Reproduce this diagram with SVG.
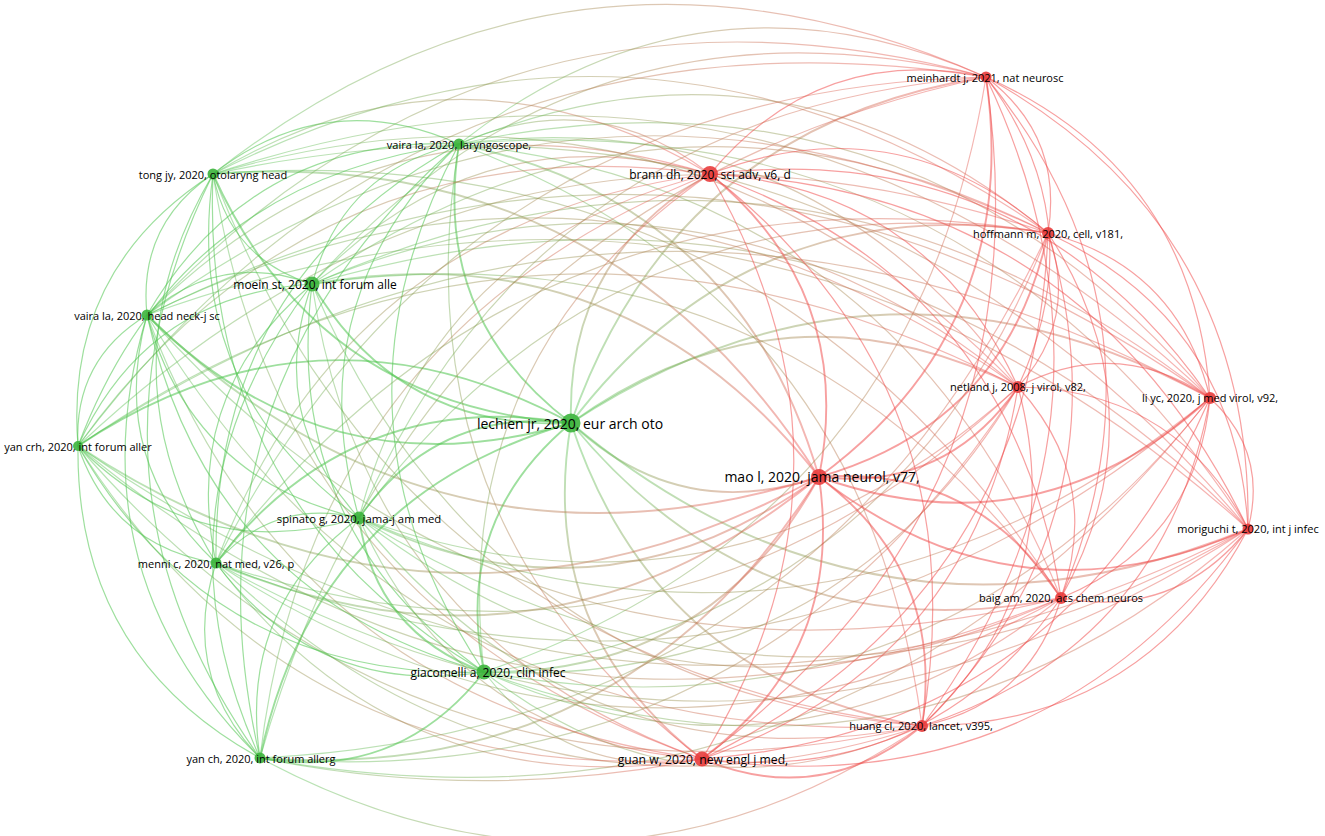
<svg xmlns="http://www.w3.org/2000/svg" width="1325" height="836" viewBox="0 0 1325 836">
<style>
#edges use{fill:none;stroke-width:1.2}
.g{stroke:#4fc44f;stroke-opacity:.55}
.r{stroke:#f04848;stroke-opacity:.52}
.gr{stroke:url(#gr);stroke-opacity:.42}
.rg{stroke:url(#rg);stroke-opacity:.42}
#edges use.t{stroke-width:1.9}
.ng circle{fill:#3cb43c;fill-opacity:.9}
.nr circle{fill:#e83c3c;fill-opacity:.9}
text{font-family:"Open Sans","Noto Sans","Liberation Sans",sans-serif;font-size:11px;fill:#000;text-anchor:middle;dominant-baseline:central}
</style>
<defs>
<linearGradient id="gr" x1="0" y1="0" x2="1" y2="0"><stop offset="0" stop-color="#4fc44f"/><stop offset="1" stop-color="#f04848"/></linearGradient>
<linearGradient id="rg" x1="0" y1="0" x2="1" y2="0"><stop offset="0" stop-color="#f04848"/><stop offset="1" stop-color="#4fc44f"/></linearGradient>
<path id="e" d="M0,0 Q0.5,-0.3 1,0" fill="none" vector-effect="non-scaling-stroke"/>
<path id="f" d="M0,0 Q0.5,-0.1 1,0" fill="none" vector-effect="non-scaling-stroke"/>
</defs>
<rect width="1325" height="836" fill="#fff"/>
<g id="edges">
<use href="#e" class="g t" transform="matrix(-424,-108,108,-424,571,423)"/>
<use href="#e" class="g t" transform="matrix(-259,-139,139,-259,571,423)"/>
<use href="#e" class="g t" transform="matrix(-358,-249,249,-358,571,423)"/>
<use href="#e" class="g t" transform="matrix(-112,-279,279,-112,571,423)"/>
<use href="#e" class="gr t" transform="matrix(139,-249,249,139,571,423)"/>
<use href="#e" class="gr t" transform="matrix(415,-346,346,415,571,423)"/>
<use href="#e" class="gr t" transform="matrix(477,-190,190,477,571,423)"/>
<use href="#e" class="gr t" transform="matrix(447,-36,36,447,571,423)"/>
<use href="#e" class="gr t" transform="matrix(639,-25,25,639,571,423)"/>
<use href="#e" class="rg t" transform="matrix(-677,-106,106,-677,1248,529)"/>
<use href="#e" class="rg t" transform="matrix(-248,-54,54,-248,819,477)"/>
<use href="#e" class="rg t" transform="matrix(-490,-175,175,-490,1061,598)"/>
<use href="#e" class="rg t" transform="matrix(-351,-303,303,-351,922,726)"/>
<use href="#e" class="rg t" transform="matrix(-131,-336,336,-131,702,759)"/>
<use href="#e" class="g t" transform="matrix(87,-249,249,87,484,672)"/>
<use href="#e" class="g t" transform="matrix(311,-335,335,311,260,758)"/>
<use href="#e" class="g t" transform="matrix(355,-140,140,355,216,563)"/>
<use href="#e" class="g t" transform="matrix(212,-95,95,212,359,518)"/>
<use href="#e" class="g t" transform="matrix(493,-23,23,493,78,446)"/>
<use href="#e" class="g" transform="matrix(165,-31,31,165,147,315)"/>
<use href="#e" class="g" transform="matrix(66,-141,141,66,147,315)"/>
<use href="#e" class="g" transform="matrix(312,-171,171,312,147,315)"/>
<use href="#e" class="gr" transform="matrix(563,-141,141,563,147,315)"/>
<use href="#e" class="gr" transform="matrix(839,-238,238,839,147,315)"/>
<use href="#e" class="gr" transform="matrix(901,-82,82,901,147,315)"/>
<use href="#e" class="gr" transform="matrix(871,72,-72,871,147,315)"/>
<use href="#e" class="gr" transform="matrix(1063,83,-83,1063,147,315)"/>
<use href="#e" class="gr" transform="matrix(1101,214,-214,1101,147,315)"/>
<use href="#e" class="rg t" transform="matrix(-672,-162,162,-672,819,477)"/>
<use href="#e" class="rg" transform="matrix(-914,-283,283,-914,1061,598)"/>
<use href="#e" class="rg" transform="matrix(-775,-411,411,-775,922,726)"/>
<use href="#e" class="rg" transform="matrix(-555,-444,444,-555,702,759)"/>
<use href="#e" class="g" transform="matrix(-337,-357,357,-337,484,672)"/>
<use href="#e" class="g" transform="matrix(-113,-443,443,-113,260,758)"/>
<use href="#e" class="g" transform="matrix(-69,-248,248,-69,216,563)"/>
<use href="#e" class="g" transform="matrix(-212,-203,203,-212,359,518)"/>
<use href="#e" class="g" transform="matrix(69,-131,131,69,78,446)"/>
<use href="#e" class="g" transform="matrix(-99,-110,110,-99,312,284)"/>
<use href="#e" class="g" transform="matrix(147,-140,140,147,312,284)"/>
<use href="#e" class="gr" transform="matrix(398,-110,110,398,312,284)"/>
<use href="#e" class="gr" transform="matrix(674,-207,207,674,312,284)"/>
<use href="#e" class="gr" transform="matrix(736,-51,51,736,312,284)"/>
<use href="#e" class="gr" transform="matrix(706,103,-103,706,312,284)"/>
<use href="#e" class="gr" transform="matrix(898,114,-114,898,312,284)"/>
<use href="#e" class="gr" transform="matrix(936,245,-245,936,312,284)"/>
<use href="#e" class="gr t" transform="matrix(507,193,-193,507,312,284)"/>
<use href="#e" class="gr" transform="matrix(749,314,-314,749,312,284)"/>
<use href="#e" class="rg" transform="matrix(-610,-442,442,-610,922,726)"/>
<use href="#e" class="rg" transform="matrix(-390,-475,475,-390,702,759)"/>
<use href="#e" class="g" transform="matrix(-172,-388,388,-172,484,672)"/>
<use href="#e" class="g" transform="matrix(52,-474,474,52,260,758)"/>
<use href="#e" class="g" transform="matrix(96,-279,279,96,216,563)"/>
<use href="#e" class="g" transform="matrix(-47,-234,234,-47,359,518)"/>
<use href="#e" class="g" transform="matrix(234,-162,162,234,78,446)"/>
<use href="#e" class="g" transform="matrix(246,-30,30,246,213,174)"/>
<use href="#e" class="gr" transform="matrix(497,0,0,497,213,174)"/>
<use href="#e" class="gr" transform="matrix(773,-97,97,773,213,174)"/>
<use href="#e" class="gr" transform="matrix(835,59,-59,835,213,174)"/>
<use href="#e" class="gr" transform="matrix(805,213,-213,805,213,174)"/>
<use href="#e" class="gr" transform="matrix(997,224,-224,997,213,174)"/>
<use href="#e" class="gr" transform="matrix(1035,355,-355,1035,213,174)"/>
<use href="#e" class="gr t" transform="matrix(606,303,-303,606,213,174)"/>
<use href="#e" class="gr" transform="matrix(848,424,-424,848,213,174)"/>
<use href="#e" class="rg" transform="matrix(-709,-552,552,-709,922,726)"/>
<use href="#e" class="rg" transform="matrix(-489,-585,585,-489,702,759)"/>
<use href="#e" class="g" transform="matrix(-271,-498,498,-271,484,672)"/>
<use href="#e" class="g" transform="matrix(-47,-584,584,-47,260,758)"/>
<use href="#e" class="g" transform="matrix(-3,-389,389,-3,216,563)"/>
<use href="#e" class="g" transform="matrix(-146,-344,344,-146,359,518)"/>
<use href="#e" class="g" transform="matrix(135,-272,272,135,78,446)"/>
<use href="#e" class="gr" transform="matrix(251,30,-30,251,459,144)"/>
<use href="#e" class="gr" transform="matrix(527,-67,67,527,459,144)"/>
<use href="#e" class="gr" transform="matrix(589,89,-89,589,459,144)"/>
<use href="#e" class="gr" transform="matrix(559,243,-243,559,459,144)"/>
<use href="#e" class="gr" transform="matrix(751,254,-254,751,459,144)"/>
<use href="#e" class="gr" transform="matrix(789,385,-385,789,459,144)"/>
<use href="#e" class="gr t" transform="matrix(360,333,-333,360,459,144)"/>
<use href="#e" class="gr" transform="matrix(602,454,-454,602,459,144)"/>
<use href="#e" class="gr" transform="matrix(463,582,-582,463,459,144)"/>
<use href="#e" class="rg" transform="matrix(-243,-615,615,-243,702,759)"/>
<use href="#e" class="g" transform="matrix(-25,-528,528,-25,484,672)"/>
<use href="#e" class="g" transform="matrix(199,-614,614,199,260,758)"/>
<use href="#e" class="g" transform="matrix(243,-419,419,243,216,563)"/>
<use href="#e" class="g" transform="matrix(100,-374,374,100,359,518)"/>
<use href="#e" class="g" transform="matrix(381,-302,302,381,78,446)"/>
<use href="#e" class="r" transform="matrix(276,-97,97,276,710,174)"/>
<use href="#e" class="r" transform="matrix(338,59,-59,338,710,174)"/>
<use href="#e" class="r" transform="matrix(308,213,-213,308,710,174)"/>
<use href="#e" class="r" transform="matrix(500,224,-224,500,710,174)"/>
<use href="#e" class="r" transform="matrix(538,355,-355,538,710,174)"/>
<use href="#e" class="r t" transform="matrix(109,303,-303,109,710,174)"/>
<use href="#e" class="r" transform="matrix(351,424,-424,351,710,174)"/>
<use href="#e" class="r" transform="matrix(212,552,-552,212,710,174)"/>
<use href="#e" class="r" transform="matrix(-8,585,-585,-8,710,174)"/>
<use href="#e" class="gr" transform="matrix(226,-498,498,226,484,672)"/>
<use href="#e" class="gr" transform="matrix(450,-584,584,450,260,758)"/>
<use href="#e" class="gr" transform="matrix(494,-389,389,494,216,563)"/>
<use href="#e" class="gr" transform="matrix(351,-344,344,351,359,518)"/>
<use href="#e" class="gr" transform="matrix(632,-272,272,632,78,446)"/>
<use href="#e" class="r" transform="matrix(62,156,-156,62,986,77)"/>
<use href="#e" class="r" transform="matrix(32,310,-310,32,986,77)"/>
<use href="#e" class="r" transform="matrix(224,321,-321,224,986,77)"/>
<use href="#e" class="r" transform="matrix(262,452,-452,262,986,77)"/>
<use href="#e" class="r t" transform="matrix(-167,400,-400,-167,986,77)"/>
<use href="#e" class="r" transform="matrix(75,521,-521,75,986,77)"/>
<use href="#e" class="r" transform="matrix(-64,649,-649,-64,986,77)"/>
<use href="#e" class="r" transform="matrix(-284,682,-682,-284,986,77)"/>
<use href="#e" class="rg" transform="matrix(-502,595,-595,-502,986,77)"/>
<use href="#e" class="gr" transform="matrix(726,-681,681,726,260,758)"/>
<use href="#e" class="gr" transform="matrix(770,-486,486,770,216,563)"/>
<use href="#e" class="gr" transform="matrix(627,-441,441,627,359,518)"/>
<use href="#e" class="gr" transform="matrix(908,-369,369,908,78,446)"/>
<use href="#e" class="r" transform="matrix(-30,154,-154,-30,1048,233)"/>
<use href="#e" class="r" transform="matrix(162,165,-165,162,1048,233)"/>
<use href="#e" class="r" transform="matrix(200,296,-296,200,1048,233)"/>
<use href="#e" class="r t" transform="matrix(-229,244,-244,-229,1048,233)"/>
<use href="#e" class="r" transform="matrix(13,365,-365,13,1048,233)"/>
<use href="#e" class="r" transform="matrix(-126,493,-493,-126,1048,233)"/>
<use href="#e" class="r" transform="matrix(-346,526,-526,-346,1048,233)"/>
<use href="#e" class="rg" transform="matrix(-564,439,-439,-564,1048,233)"/>
<use href="#e" class="rg" transform="matrix(-788,525,-525,-788,1048,233)"/>
<use href="#e" class="gr" transform="matrix(832,-330,330,832,216,563)"/>
<use href="#e" class="gr" transform="matrix(689,-285,285,689,359,518)"/>
<use href="#e" class="gr" transform="matrix(970,-213,213,970,78,446)"/>
<use href="#e" class="r" transform="matrix(192,11,-11,192,1018,387)"/>
<use href="#e" class="r" transform="matrix(230,142,-142,230,1018,387)"/>
<use href="#e" class="r t" transform="matrix(-199,90,-90,-199,1018,387)"/>
<use href="#e" class="r" transform="matrix(43,211,-211,43,1018,387)"/>
<use href="#e" class="r" transform="matrix(-96,339,-339,-96,1018,387)"/>
<use href="#e" class="r" transform="matrix(-316,372,-372,-316,1018,387)"/>
<use href="#e" class="rg" transform="matrix(-534,285,-285,-534,1018,387)"/>
<use href="#e" class="rg" transform="matrix(-758,371,-371,-758,1018,387)"/>
<use href="#e" class="rg" transform="matrix(-802,176,-176,-802,1018,387)"/>
<use href="#e" class="rg" transform="matrix(-659,131,-131,-659,1018,387)"/>
<use href="#e" class="gr" transform="matrix(940,-59,59,940,78,446)"/>
<use href="#e" class="r" transform="matrix(38,131,-131,38,1210,398)"/>
<use href="#e" class="r t" transform="matrix(-391,79,-79,-391,1210,398)"/>
<use href="#e" class="r" transform="matrix(-149,200,-200,-149,1210,398)"/>
<use href="#e" class="r" transform="matrix(-288,328,-328,-288,1210,398)"/>
<use href="#e" class="r" transform="matrix(-508,361,-361,-508,1210,398)"/>
<use href="#e" class="rg" transform="matrix(-726,274,-274,-726,1210,398)"/>
<use href="#e" class="rg" transform="matrix(-950,360,-360,-950,1210,398)"/>
<use href="#e" class="rg" transform="matrix(-994,165,-165,-994,1210,398)"/>
<use href="#e" class="rg" transform="matrix(-851,120,-120,-851,1210,398)"/>
<use href="#e" class="gr" transform="matrix(1132,-48,48,1132,78,446)"/>
<use href="#e" class="r t" transform="matrix(-429,-52,52,-429,1248,529)"/>
<use href="#e" class="r" transform="matrix(-187,69,-69,-187,1248,529)"/>
<use href="#e" class="r" transform="matrix(-326,197,-197,-326,1248,529)"/>
<use href="#e" class="r" transform="matrix(-546,230,-230,-546,1248,529)"/>
<use href="#e" class="rg" transform="matrix(-764,143,-143,-764,1248,529)"/>
<use href="#e" class="rg" transform="matrix(-1032,34,-34,-1032,1248,529)"/>
<use href="#e" class="rg" transform="matrix(-889,-11,11,-889,1248,529)"/>
<use href="#e" class="rg" transform="matrix(-1170,-83,83,-1170,1248,529)"/>
<use href="#e" class="r t" transform="matrix(242,121,-121,242,819,477)"/>
<use href="#e" class="r t" transform="matrix(103,249,-249,103,819,477)"/>
<use href="#e" class="r t" transform="matrix(-117,282,-282,-117,819,477)"/>
<use href="#e" class="rg t" transform="matrix(-335,195,-195,-335,819,477)"/>
<use href="#e" class="rg t" transform="matrix(-559,281,-281,-559,819,477)"/>
<use href="#e" class="rg t" transform="matrix(-603,86,-86,-603,819,477)"/>
<use href="#e" class="rg t" transform="matrix(-460,41,-41,-460,819,477)"/>
<use href="#e" class="rg t" transform="matrix(-741,-31,31,-741,819,477)"/>
<use href="#e" class="r" transform="matrix(-139,128,-128,-139,1061,598)"/>
<use href="#e" class="r" transform="matrix(-359,161,-161,-359,1061,598)"/>
<use href="#e" class="rg" transform="matrix(-577,74,-74,-577,1061,598)"/>
<use href="#e" class="rg" transform="matrix(-845,-35,35,-845,1061,598)"/>
<use href="#e" class="rg" transform="matrix(-702,-80,80,-702,1061,598)"/>
<use href="#e" class="rg" transform="matrix(-983,-152,152,-983,1061,598)"/>
<use href="#e" class="r t" transform="matrix(-220,33,-33,-220,922,726)"/>
<use href="#e" class="rg" transform="matrix(-438,-54,54,-438,922,726)"/>
<use href="#e" class="rg" transform="matrix(-662,32,-32,-662,922,726)"/>
<use href="#e" class="rg" transform="matrix(-706,-163,163,-706,922,726)"/>
<use href="#e" class="rg" transform="matrix(-563,-208,208,-563,922,726)"/>
<use href="#e" class="rg" transform="matrix(-844,-280,280,-844,922,726)"/>
<use href="#e" class="rg" transform="matrix(-218,-87,87,-218,702,759)"/>
<use href="#f" class="rg" transform="matrix(-442,-1,1,-442,702,759)"/>
<use href="#e" class="rg" transform="matrix(-486,-196,196,-486,702,759)"/>
<use href="#e" class="rg" transform="matrix(-343,-241,241,-343,702,759)"/>
<use href="#e" class="rg" transform="matrix(-624,-313,313,-624,702,759)"/>
<use href="#e" class="g t" transform="matrix(-224,86,-86,-224,484,672)"/>
<use href="#e" class="g" transform="matrix(-268,-109,109,-268,484,672)"/>
<use href="#e" class="g t" transform="matrix(-125,-154,154,-125,484,672)"/>
<use href="#e" class="g" transform="matrix(-406,-226,226,-406,484,672)"/>
<use href="#e" class="g" transform="matrix(-44,-195,195,-44,260,758)"/>
<use href="#e" class="g" transform="matrix(99,-240,240,99,260,758)"/>
<use href="#e" class="g" transform="matrix(-182,-312,312,-182,260,758)"/>
<use href="#e" class="g" transform="matrix(143,-45,45,143,216,563)"/>
<use href="#e" class="g" transform="matrix(-138,-117,117,-138,216,563)"/>
<use href="#e" class="g" transform="matrix(-281,-72,72,-281,359,518)"/>
</g>
<g id="n-tong" class="ng"><circle cx="213" cy="174" r="5.5"/><text x="213" y="174">tong jy, 2020, otolaryng head</text></g>
<g id="n-vlar" class="ng"><circle cx="459" cy="144" r="5.5"/><text x="459" y="144">vaira la, 2020, laryngoscope,</text></g>
<g id="n-moein" class="ng"><circle cx="312" cy="284" r="7.5"/><text x="315" y="284" style="font-size:12px">moein st, 2020, int forum alle</text></g>
<g id="n-vhn" class="ng"><circle cx="147" cy="315" r="5.5"/><text x="147" y="315">vaira la, 2020, head neck-j sc</text></g>
<g id="n-lech" class="ng"><circle cx="571" cy="423" r="9.5"/><text x="570" y="423" style="font-size:14px">lechien jr, 2020, eur arch oto</text></g>
<g id="n-ycrh" class="ng"><circle cx="78" cy="446" r="5"/><text x="78" y="446">yan crh, 2020, int forum aller</text></g>
<g id="n-spin" class="ng"><circle cx="359" cy="518" r="6.5"/><text x="359" y="518" style="font-size:11.3px">spinato g, 2020, jama-j am med</text></g>
<g id="n-menni" class="ng"><circle cx="216" cy="563" r="5.5"/><text x="216" y="563">menni c, 2020, nat med, v26, p</text></g>
<g id="n-giac" class="ng"><circle cx="484" cy="672" r="7.5"/><text x="488" y="672" style="font-size:12px">giacomelli a, 2020, clin infec</text></g>
<g id="n-ych" class="ng"><circle cx="260" cy="758" r="5.5"/><text x="261" y="758">yan ch, 2020, int forum allerg</text></g>
<g id="n-mein" class="nr"><circle cx="986" cy="77" r="5.5"/><text x="985" y="77">meinhardt j, 2021, nat neurosc</text></g>
<g id="n-brann" class="nr"><circle cx="710" cy="174" r="8"/><text x="710" y="174" style="font-size:12px">brann dh, 2020, sci adv, v6, d</text></g>
<g id="n-hoff" class="nr"><circle cx="1048" cy="233" r="6"/><text x="1048" y="233">hoffmann m, 2020, cell, v181,</text></g>
<g id="n-netl" class="nr"><circle cx="1018" cy="387" r="6"/><text x="1018" y="386">netland j, 2008, j virol, v82,</text></g>
<g id="n-liyc" class="nr"><circle cx="1210" cy="398" r="6"/><text x="1210" y="397">li yc, 2020, j med virol, v92,</text></g>
<g id="n-mao" class="nr"><circle cx="819" cy="477" r="8"/><text x="822" y="476" style="font-size:14px">mao l, 2020, jama neurol, v77,</text></g>
<g id="n-mori" class="nr"><circle cx="1248" cy="529" r="5.5"/><text x="1248" y="528">moriguchi t, 2020, int j infec</text></g>
<g id="n-baig" class="nr"><circle cx="1061" cy="598" r="6"/><text x="1061" y="597">baig am, 2020, acs chem neuros</text></g>
<g id="n-huang" class="nr"><circle cx="922" cy="726" r="6"/><text x="921" y="725">huang cl, 2020, lancet, v395,</text></g>
<g id="n-guan" class="nr"><circle cx="702" cy="759" r="7.5"/><text x="703" y="759" style="font-size:12.2px">guan w, 2020, new engl j med,</text></g>
</svg>
